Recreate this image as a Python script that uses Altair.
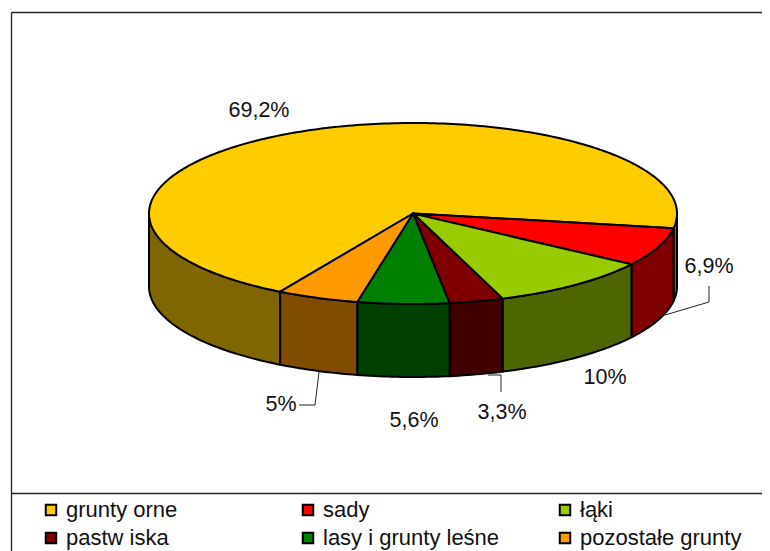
import math
import altair as alt

categories = ["grunty orne", "sady", "łąki", "pastw iska", "lasy i grunty leśne", "pozostałe grunty"]
shares = [69.2, 6.9, 10, 3.3, 5.6, 5]
value_labels = ["69,2%", "6,9%", "10%", "3,3%", "5,6%", "5%"]
top_colors = ["#FFCC00", "#FF0000", "#99CC00", "#800000", "#008000", "#FF9900"]
wall_colors = ["#806600", "#800000", "#4D6600", "#400000", "#004000", "#804D00"]
legend_order = [0, 3, 1, 4, 2, 5]

W, H = 754, 543
OX, OY = 8, 8
CX, CY, RX = 413 - OX, 213.5 - OY, 264
TILT = 90.5 / 264
DEPTH = 73 / 264
START = 120.2


def pt(a, dy=0.0):
    r = math.radians(a)
    return [math.cos(r), math.sin(r) * TILT + dy]


def arc(a, b, dy=0.0):
    n = max(2, int(abs(b - a)) + 1)
    return [pt(a + (b - a) * i / n, dy) for i in range(n + 1)]


def feature(name, color, ring):
    ring = ring + [ring[0]]
    return {"type": "Feature", "properties": {"name": name, "color": color},
            "geometry": {"type": "Polygon", "coordinates": [ring]}}


tops, walls = [], []
a = START
for name, share, wc in zip(categories, shares, wall_colors):
    b = a + share * 3.6
    tops.append(feature(name, None, [[0.0, 0.0]] + arc(a, b)))
    for lo, hi in ((0, 180), (360, 540)):
        s, e = max(a, lo), min(b, hi)
        if s < e:
            walls.append(feature(name, wc, arc(s, e) + arc(e, s, DEPTH)))
    a = b

proj = dict(type="identity", scale=RX, translate=[CX, CY])
edge = dict(stroke="black", strokeWidth=2, strokeJoin="round")

wall_layer = alt.Chart(alt.Data(values=walls)).mark_geoshape(**edge).encode(
    fill=alt.Fill("properties.color:N", scale=None, legend=None)
).project(**proj)

top_layer = alt.Chart(alt.Data(values=tops)).mark_geoshape(**edge).encode(
    fill=alt.Fill(
        "properties.name:N",
        scale=alt.Scale(domain=[categories[i] for i in legend_order],
                        range=[top_colors[i] for i in legend_order]),
        legend=alt.Legend(
            title=None, orient="none", legendX=41 - OX - 1, legendY=499 - OY,
            columns=3, gridAlign="all", columnPadding=54, rowPadding=6,
            symbolType="square", symbolSize=110, symbolStrokeColor="black",
            symbolStrokeWidth=2, labelFont="Liberation Sans", labelFontSize=22,
            labelColor="#111111", labelOffset=4, labelLimit=400,
        ),
    )
).project(**proj)

px_x = alt.Scale(domain=[0, W], range=[0, W])
px_y = alt.Scale(domain=[0, H], range=[0, H])

label_pos = [(259, 111), (709, 267), (605, 378), (502, 413), (414, 421), (281, 405)]
label_rows = [{"t": t, "x": p[0] - OX, "y": p[1] - OY} for t, p in zip(value_labels, label_pos)]
text_layer = alt.Chart(alt.Data(values=label_rows)).mark_text(
    font="Liberation Sans", fontSize=21.5, color="#111111", align="center", baseline="middle"
).encode(
    x=alt.X("x:Q", scale=px_x, axis=None),
    y=alt.Y("y:Q", scale=px_y, axis=None),
    text="t:N",
)

leaders = {
    "6,9%": [(709, 286), (709, 302), (665, 315)],
    "5%": [(299, 405), (315, 405), (319, 372)],
    "3,3%": [(501, 392), (501, 375), (488, 375)],
}
leader_rows = [
    {"k": k, "i": i, "x": p[0] - OX, "y": p[1] - OY}
    for k, pts in leaders.items() for i, p in enumerate(pts)
]
leader_layer = alt.Chart(alt.Data(values=leader_rows)).mark_line(
    color="#222222", strokeWidth=1
).encode(
    x=alt.X("x:Q", scale=px_x, axis=None),
    y=alt.Y("y:Q", scale=px_y, axis=None),
    detail="k:N",
    order="i:Q",
)

frame = [
    ("left", 11.5, 12.5, 11.5, 551),
    ("top", 11.5, 12.5, 770, 12.5),
    ("legend", 11.5, 493.5, 770, 493.5),
]
frame_rows = []
for k, x0, y0, x1, y1 in frame:
    frame_rows.append({"k": k, "i": 0, "x": x0 - OX, "y": y0 - OY})
    frame_rows.append({"k": k, "i": 1, "x": x1 - OX, "y": y1 - OY})
frame_layer = alt.Chart(alt.Data(values=frame_rows)).mark_line(
    color="#222222", strokeWidth=1.3
).encode(
    x=alt.X("x:Q", scale=px_x, axis=None),
    y=alt.Y("y:Q", scale=px_y, axis=None),
    detail="k:N",
    order="i:Q",
)

chart = alt.layer(frame_layer, wall_layer, top_layer, leader_layer, text_layer).resolve_scale(
    fill="independent"
).properties(
    width=W, height=H, padding=0,
    autosize=alt.AutoSizeParams(type="none"),
).configure_view(stroke=None)

chart.save("out.html", embed_options={"renderer": "svg", "actions": False})
